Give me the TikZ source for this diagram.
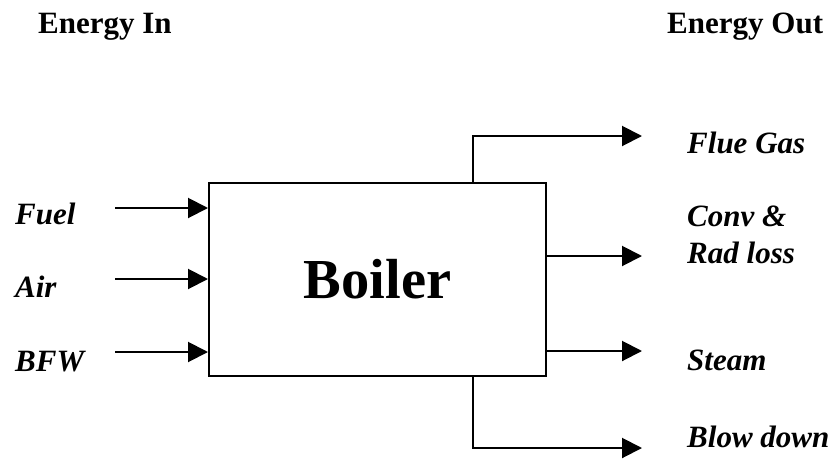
\documentclass[tikz,border=0pt]{standalone}
\usepackage{fontspec}
\setmainfont{Liberation Serif}
\usetikzlibrary{arrows.meta}
\tikzset{
  flow/.style={line width=2pt, -{Triangle[length=20pt,width=20pt]}},
  heading/.style={anchor=base west, inner sep=0pt, font=\fontsize{31}{37}\selectfont\bfseries},
  stream/.style={anchor=base west, inner sep=0pt, font=\fontsize{31}{37}\selectfont\bfseries\itshape},
  unitbox/.style={draw, line width=2pt, minimum width=337pt, minimum height=193pt, inner sep=0pt, font=\fontsize{56.5}{60}\selectfont\bfseries}
}
\begin{document}
\begin{tikzpicture}[x=1pt,y=-1pt]
\useasboundingbox (0,0) rectangle (835,458);
% headings
\node[heading] (hin) at (38,33) {Energy In};
\node[heading] (hout) at (667,33) {Energy Out};
% boiler
\node[unitbox] (boiler) at (377.5,279.5) {Boiler};
% input labels
\node[stream] (fuel) at (15,224) {Fuel};
\node[stream] (air) at (15,297) {Air};
\node[stream] (bfw) at (15,371) {BFW};
% input arrow starts
\coordinate (fuelS) at (115,208);
\coordinate (airS) at (115,279);
\coordinate (bfwS) at (115,352);
\draw[flow] (fuelS) -- (fuelS -| boiler.west);
\draw[flow] (airS) -- (airS -| boiler.west);
\draw[flow] (bfwS) -- (bfwS -| boiler.west);
% output labels
\node[stream] (flue) at (687,153) {Flue Gas};
\node[stream] (conv) at (687,226) {Conv \&};
\node[stream] (rad) at (687,263) {Rad loss};
\node[stream] (steam) at (687,370) {Steam};
\node[stream] (blow) at (687,447) {Blow down};
% output arrow ends
\coordinate (flueE) at (642,136);
\coordinate (convE) at (642,256);
\coordinate (steamE) at (642,351);
\coordinate (blowE) at (642,448);
\coordinate (flueX) at (473,0);
\draw[flow] (flueX |- boiler.north) |- (flueE);
\draw[flow] (convE -| boiler.east) -- (convE);
\draw[flow] (steamE -| boiler.east) -- (steamE);
\draw[flow] (flueX |- boiler.south) |- (blowE);
\end{tikzpicture}
\end{document}
